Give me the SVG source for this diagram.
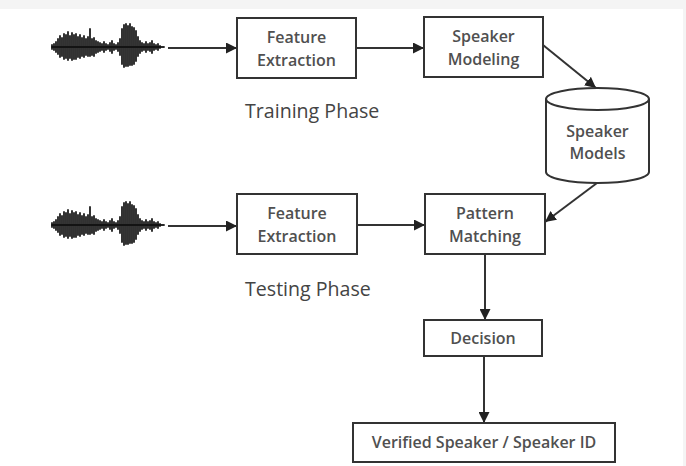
<svg xmlns="http://www.w3.org/2000/svg" width="686" height="466" viewBox="0 0 686 466">
<style>
.box{fill:#fff;stroke:#333;stroke-width:2}
.lbl{font-family:"Open Sans","Liberation Sans",sans-serif;font-size:16px;font-weight:600;fill:#505050;text-anchor:middle}
.phase{font-family:"Open Sans","Liberation Sans",sans-serif;font-size:19.6px;fill:#444}
.conn{stroke:#333;stroke-width:2;fill:none;marker-end:url(#ah)}
.wave{stroke:#111;stroke-width:1.9;fill:none;stroke-linecap:round;opacity:0.9}
</style>
<defs>
<marker id="ah" viewBox="0 0 10 10" refX="10" refY="5" markerWidth="5.5" markerHeight="5.5" orient="auto" markerUnits="strokeWidth">
<path d="M0,0 L10,5 L0,10 Z" fill="#222"/>
</marker>
<g id="wave">
<path class="wave" d="M0,0 H112"/>
<path class="wave" d="M0,-2V2 M2,-3V3 M4,-5V5 M6,-8V7 M8,-11V10 M10,-9V9 M12,-13V12 M14,-12V11 M16,-15V13 M18,-11V11 M20,-14V13 M22,-12V12 M24,-13V12 M26,-10V10 M28,-12V11 M30,-9V9 M32,-11V10 M34,-8V8 M36,-10V9 M38,-18V9 M40,-8V8 M42,-9V9 M44,-6V6 M46,-5V5 M48,-4V4 M50,-3V3 M52,-5V5 M54,-3V3 M56,-2V2 M58,-4V4 M60,-6V6 M62,-3V3 M64,-2V2 M66,-4V4 M68,-8V8 M70,-18V17 M72,-22V20 M74,-23V19 M76,-21V19 M78,-23V18 M80,-20V18 M82,-19V17 M84,-16V14 M86,-10V9 M88,-6V6 M90,-4V4 M92,-3V3 M94,-5V5 M96,-3V3 M98,-4V4 M100,-6V6 M102,-3V3 M104,-2V2 M106,-3V3 M108,-1V1"/>
</g>
</defs>
<rect width="686" height="466" fill="#fff"/>
<rect x="0" y="0" width="686" height="9" fill="#f4f4f4"/>
<rect x="683" y="0" width="3" height="466" fill="#f4f4f4"/>

<g id="wave-train"><use href="#wave" x="52" y="47"/></g>
<g id="wave-test"><use href="#wave" x="52" y="225"/></g>

<g id="connectors">
<path class="conn" d="M168,48 H237"/>
<path class="conn" d="M356,48 H424"/>
<path class="conn" d="M543,45 L596,88"/>
<path class="conn" d="M168,226 H237"/>
<path class="conn" d="M357,225 H425"/>
<path class="conn" d="M597,183 L545,222"/>
<path class="conn" d="M485,254 V320"/>
<path class="conn" d="M484,356 V423"/>
</g>

<g id="fe-train">
<rect class="box" x="237" y="18" width="119" height="60"/>
<text class="lbl" x="296.5" y="43">Feature</text>
<text class="lbl" x="296.5" y="66">Extraction</text>
</g>
<g id="speaker-modeling">
<rect class="box" x="424" y="17" width="119" height="60"/>
<text class="lbl" x="483.5" y="42">Speaker</text>
<text class="lbl" x="483.5" y="65">Modeling</text>
</g>
<g id="speaker-models">
<path class="box" d="M546,99 V172 A51.5,11 0 0 0 649,172 V99"/>
<ellipse class="box" cx="597.5" cy="99" rx="51.5" ry="11"/>
<text class="lbl" x="597.5" y="137">Speaker</text>
<text class="lbl" x="597.5" y="159">Models</text>
</g>
<g id="training-phase"><text class="phase" x="245" y="118">Training Phase</text></g>

<g id="fe-test">
<rect class="box" x="237" y="194" width="120" height="60"/>
<text class="lbl" x="297" y="219">Feature</text>
<text class="lbl" x="297" y="242">Extraction</text>
</g>
<g id="pattern-matching">
<rect class="box" x="425" y="194" width="120" height="60"/>
<text class="lbl" x="485" y="219">Pattern</text>
<text class="lbl" x="485" y="242">Matching</text>
</g>
<g id="testing-phase"><text class="phase" x="245" y="296">Testing Phase</text></g>

<g id="decision">
<rect class="box" x="424" y="320" width="118" height="36"/>
<text class="lbl" x="483" y="344">Decision</text>
</g>
<g id="verified">
<rect class="box" x="353" y="423" width="262" height="39"/>
<text class="lbl" x="484" y="448">Verified Speaker / Speaker ID</text>
</g>
</svg>
